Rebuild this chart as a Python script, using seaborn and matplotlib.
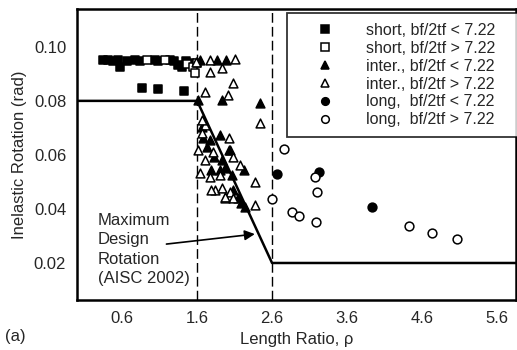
import matplotlib
matplotlib.use("Agg")
import matplotlib.pyplot as plt
import seaborn as sns
import pandas as pd
from matplotlib.lines import Line2D

sns.set_theme(style="white")
plt.rcParams['font.family'] = ['Liberation Sans', 'DejaVu Sans']

# ---- data ----
short_lo_x = [0.34, 0.41, 0.48, 0.54, 0.57, 0.66, 0.77, 0.84, 1.04, 1.08, 1.24, 1.29, 1.34, 1.40, 1.45, 1.50, 0.86, 1.08, 1.43]
short_lo_y = [0.0950, 0.0950, 0.0948, 0.0950, 0.0925, 0.0948, 0.0950, 0.0948, 0.0950, 0.0946, 0.0950, 0.0948, 0.0932, 0.0925, 0.0946, 0.0940, 0.0847, 0.0845, 0.0835]

short_hi_x = [0.93, 1.17, 1.46, 1.55, 1.57, 1.60]
short_hi_y = [0.0950, 0.0950, 0.0935, 0.0925, 0.0903, 0.0940]

inter_lo_x = [1.64, 1.86, 1.99, 1.61, 1.93, 2.44, 1.66, 1.68, 1.77, 1.91, 2.04, 1.73, 1.82, 1.93, 1.97, 1.79, 1.91, 2.06, 2.08, 2.15, 2.19, 2.24, 2.22, 2.02]
inter_lo_y = [0.0950, 0.0951, 0.0950, 0.0805, 0.0804, 0.0791, 0.0705, 0.0661, 0.0655, 0.0674, 0.0618, 0.0630, 0.0594, 0.0581, 0.0550, 0.0544, 0.0544, 0.0526, 0.0470, 0.0440, 0.0421, 0.0409, 0.0545, 0.0620]

inter_hi_x = [1.77, 2.10, 1.93, 1.77, 2.08, 2.01, 1.70, 1.59, 2.44, 2.02, 1.70, 1.66, 1.61, 1.70, 1.81, 2.17, 1.64, 1.77, 1.91, 2.37, 1.84, 1.93, 2.04, 1.97, 2.08, 2.37, 2.08, 1.66, 1.79, 1.97]
inter_hi_y = [0.0951, 0.0955, 0.0920, 0.0908, 0.0866, 0.0822, 0.0834, 0.0945, 0.0718, 0.0661, 0.0711, 0.0680, 0.0618, 0.0580, 0.0612, 0.0563, 0.0532, 0.0520, 0.0526, 0.0501, 0.0470, 0.0476, 0.0464, 0.0440, 0.0594, 0.0415, 0.0440, 0.0730, 0.0470, 0.0446]

long_lo_x = [2.67, 3.23, 3.93]
long_lo_y = [0.0530, 0.0536, 0.0409]

long_hi_x = [2.76, 2.60, 2.87, 2.96, 3.17, 3.20, 3.19, 4.43, 4.73, 5.07]
long_hi_y = [0.0622, 0.0437, 0.0390, 0.0375, 0.0520, 0.0464, 0.0350, 0.0336, 0.0311, 0.0289]

design_x = [0.0, 1.6, 2.6, 5.9]
design_y = [0.08, 0.08, 0.02, 0.02]

x_ticks = [0.6, 1.6, 2.6, 3.6, 4.6, 5.6]
y_ticks = [0.02, 0.04, 0.06, 0.08, 0.10]

labels = ["short, bf/2tf < 7.22", "short, bf/2tf > 7.22",
          "inter., bf/2tf < 7.22", "inter., bf/2tf > 7.22",
          "long,  bf/2tf < 7.22", "long,  bf/2tf > 7.22"]

# ---- figure ----
fig = plt.figure(figsize=(5.17, 3.5), dpi=100)
ax = fig.add_axes([77.3 / 517, 1 - 300 / 350, (516 - 77.3) / 517, 291 / 350])

series = [
    (short_lo_x, short_lo_y, 's', True),
    (short_hi_x, short_hi_y, 's', False),
    (inter_lo_x, inter_lo_y, '^', True),
    (inter_hi_x, inter_hi_y, '^', False),
    (long_lo_x, long_lo_y, 'o', True),
    (long_hi_x, long_hi_y, 'o', False),
]

# vertical dashed lines
for xv in [1.6, 2.6]:
    ax.axvline(xv, color='black', lw=1.0, ls=(0, (7, 3)), zorder=1)

for xs, ys, m, filled in series:
    df = pd.DataFrame({'x': xs, 'y': ys})
    sns.scatterplot(data=df, x='x', y='y', ax=ax, marker=m, s=40,
                    color='black' if filled else 'white',
                    edgecolor='black', linewidth=1.1, zorder=3, legend=False)

dd = pd.DataFrame({'x': design_x, 'y': design_y})
sns.lineplot(data=dd, x='x', y='y', ax=ax, color='black', lw=1.8, sort=False,
             estimator=None, zorder=2)

ax.set_xlim(0, 5.857)
ax.set_ylim(0.0063, 0.114)
ax.set_xticks(x_ticks)
ax.set_xticklabels([f"{v:.1f}" for v in x_ticks])
ax.set_yticks(y_ticks)
ax.set_yticklabels([f"{v:.2f}" for v in y_ticks])
ax.tick_params(direction='in', length=5, width=1.3, labelsize=12, pad=8, color='black')
for sp in ax.spines.values():
    sp.set_linewidth(1.8)
    sp.set_color('black')

ax.set_xlabel("Length Ratio, ρ", fontsize=12, labelpad=4)
ax.set_ylabel("Inelastic Rotation (rad)", fontsize=12, labelpad=5)

# annotation
ax.text(0.27, 0.0250, "Maximum\nDesign\nRotation\n(AISC 2002)", fontsize=12,
        ha='left', va='center', linespacing=1.34)
ax.annotate("", xy=(2.37, 0.0307), xytext=(1.19, 0.0270),
            arrowprops=dict(arrowstyle='-|>', color='black', lw=1.2, mutation_scale=15,
                            shrinkA=0, shrinkB=0))

# legend
handles = []
for xs, ys, m, filled in series:
    handles.append(Line2D([], [], ls='none', marker=m, markersize=5.5,
                          markerfacecolor='black' if filled else 'white',
                          markeredgecolor='black', markeredgewidth=1.1))
leg = ax.legend(handles, labels, loc='upper left', bbox_to_anchor=(0.478, 0.5, 0.54, 0.485),
                mode='expand', fontsize=11.5, frameon=True, fancybox=False, handlelength=3.55,
                handletextpad=0.79, labelspacing=0.18, borderpad=0.6, borderaxespad=0)
leg.get_frame().set_edgecolor('black')
leg.get_frame().set_linewidth(1.3)

fig.text(0.01, 0.025, "(a)", fontsize=12)

fig.savefig("out.png", dpi=100)
